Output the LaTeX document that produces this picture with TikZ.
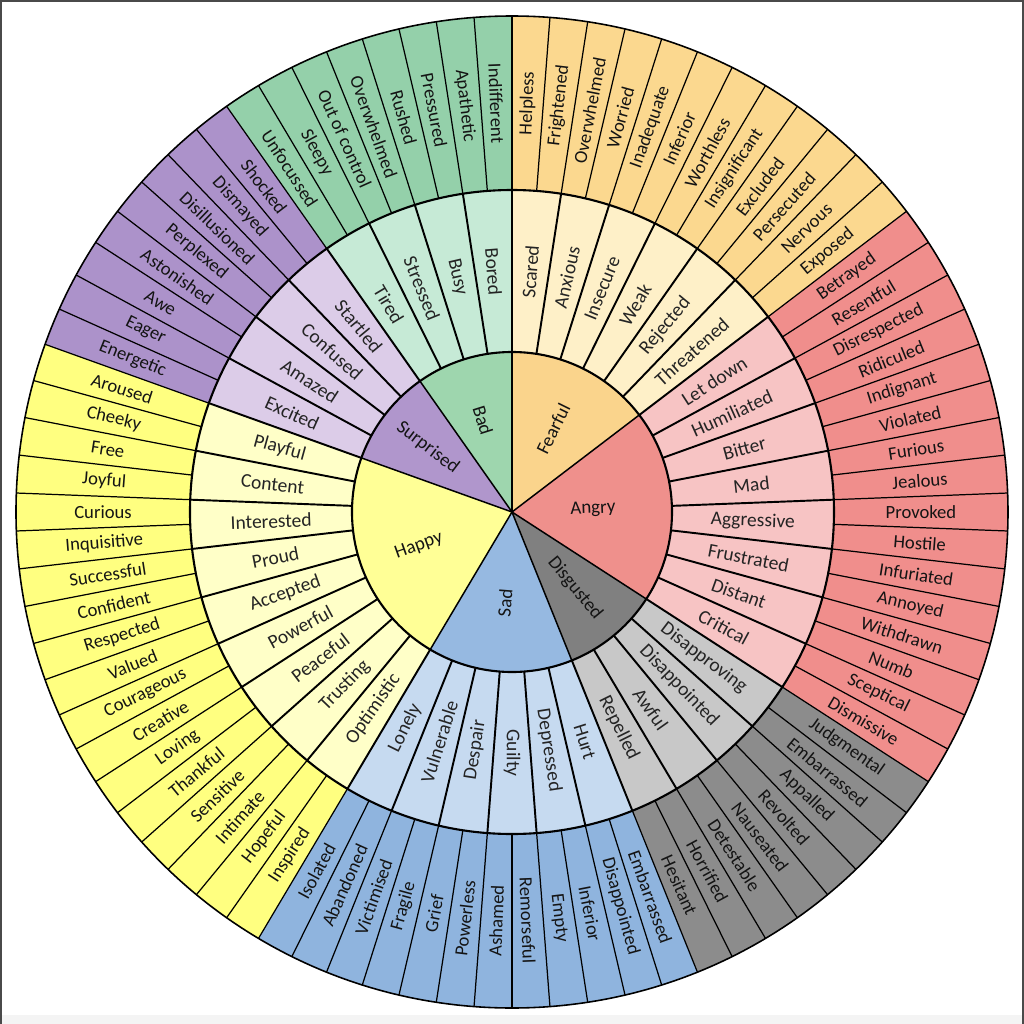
\documentclass[tikz,border=0pt]{standalone}
\usepackage{fontspec}
\setmainfont{Carlito}
\usetikzlibrary{calc}
\definecolor{fearcore}{HTML}{FAD48C}
\definecolor{fearmid}{HTML}{FEF0C8}
\definecolor{fearout}{HTML}{FBD88F}
\definecolor{angrycore}{HTML}{EF908C}
\definecolor{angrymid}{HTML}{F7C4C4}
\definecolor{angryout}{HTML}{F08E8C}
\definecolor{disgcore}{HTML}{808080}
\definecolor{disgmid}{HTML}{C8C8C8}
\definecolor{disgout}{HTML}{8C8C8C}
\definecolor{sadcore}{HTML}{96B9E1}
\definecolor{sadmid}{HTML}{C6DAF0}
\definecolor{sadout}{HTML}{8FB4DE}
\definecolor{happycore}{HTML}{FFFF96}
\definecolor{happymid}{HTML}{FFFFC8}
\definecolor{happyout}{HTML}{FFFF80}
\definecolor{surpcore}{HTML}{B096CC}
\definecolor{surpmid}{HTML}{DCCCE8}
\definecolor{surpout}{HTML}{AC92CA}
\definecolor{badcore}{HTML}{9ED6AE}
\definecolor{badmid}{HTML}{C6EAD6}
\definecolor{badout}{HTML}{94D0AA}
\definecolor{framegray}{HTML}{4A4A4A}
\definecolor{bandgray}{HTML}{F4F4F4}
\def\segw{4.390243902}
\def\ringpiece[#1](#2:#3:#4:#5){\fill[#1] ({90-#2*\segw}:#4) arc ({90-#2*\segw}:{90-#3*\segw}:#4) -- ({90-#3*\segw}:#5) arc ({90-#3*\segw}:{90-#2*\segw}:#5) -- cycle;}
\def\corepiece[#1](#2:#3){\fill[#1] (0,0) -- ({90-#2*\segw}:3.2) arc ({90-#2*\segw}:{90-#3*\segw}:3.2) -- cycle;}
\def\outerword(#1)#2{\draw[outerline] ({90-(#1-1)*\segw}:6.44) -- ({90-(#1-1)*\segw}:9.92); \node[outerword, rotate={90-(#1-0.5)*\segw+180*(#1>41.5)}] (out#1) at ({90-(#1-0.5)*\segw}:8.18) {#2};}
\def\midword(#1)#2{\draw[midline] ({90-(#1-1)*2*\segw}:3.2) -- ({90-(#1-1)*2*\segw}:6.44); \node[midword, rotate={90-(#1-0.5)*2*\segw+180*(#1>21.5)}] (mid#1) at ({90-(#1-0.5)*2*\segw}:4.82) {#2};}
\def\coreword(#1:#2:#3)#4{\draw[coreline] (0,0) -- ({90-#1*\segw}:3.2); \node[coreword, rotate={90-#2*\segw+180*(#2>41)}] (core#2) at ({90-#2*\segw}:#3) {#4};}
\tikzset{
  outerline/.style={line width=0.7pt, black},
  midline/.style={line width=1.1pt, black},
  coreline/.style={line width=0.85pt, black},
  ringline/.style={line width=1.2pt, black},
  outerword/.style={font=\fontsize{10.6}{12}\selectfont, text=black!92, inner sep=0pt},
  midword/.style={font=\fontsize{11.1}{13}\selectfont, text=black!86, inner sep=0pt},
  coreword/.style={font=\fontsize{10.8}{12}\selectfont, text=black!92, inner sep=0pt}
}

\begin{document}
\begin{tikzpicture}
		%%%%% START %%%%%
		\useasboundingbox (-10.24,-10.24) rectangle (10.24,10.24);
		\fill[white] (-10.24,-10.24) rectangle (10.24,10.24);
		\fill[bandgray] (-10.24,-10.24) rectangle (10.24,-10.06);
		\draw[framegray, line width=0.04cm] (-10.22,-10.24) -- (-10.22,10.22) -- (10.22,10.22) -- (10.22,-10.24);
		
		% outer ring
		\ringpiece[fearout](0:12:6.44:9.92)
		\ringpiece[angryout](12:28:6.44:9.92)
		\ringpiece[disgout](28:36:6.44:9.92)
		\ringpiece[sadout](36:48:6.44:9.92)
		\ringpiece[happyout](48:66:6.44:9.92)
		\ringpiece[surpout](66:74:6.44:9.92)
		\ringpiece[badout](74:82:6.44:9.92)
		
		% middle ring
		\ringpiece[fearmid](0:12:3.2:6.44)
		\ringpiece[angrymid](12:28:3.2:6.44)
		\ringpiece[disgmid](28:36:3.2:6.44)
		\ringpiece[sadmid](36:48:3.2:6.44)
		\ringpiece[happymid](48:66:3.2:6.44)
		\ringpiece[surpmid](66:74:3.2:6.44)
		\ringpiece[badmid](74:82:3.2:6.44)
		
		% core
		\corepiece[fearcore](0:12)
		\corepiece[angrycore](12:28)
		\corepiece[disgcore](28:36)
		\corepiece[sadcore](36:48)
		\corepiece[happycore](48:66)
		\corepiece[surpcore](66:74)
		\corepiece[badcore](74:82)
		
		\outerword(1){Helpless}
		\outerword(2){Frightened}
		\outerword(3){Overwhelmed}
		\outerword(4){Worried}
		\outerword(5){Inadequate}
		\outerword(6){Inferior}
		\outerword(7){Worthless}
		\outerword(8){Insignificant}
		\outerword(9){Excluded}
		\outerword(10){Persecuted}
		\outerword(11){Nervous}
		\outerword(12){Exposed}
		
		\outerword(13){Betrayed}
		\outerword(14){Resentful}
		\outerword(15){Disrespected}
		\outerword(16){Ridiculed}
		\outerword(17){Indignant}
		\outerword(18){Violated}
		\outerword(19){Furious}
		\outerword(20){Jealous}
		\outerword(21){Provoked}
		\outerword(22){Hostile}
		\outerword(23){Infuriated}
		\outerword(24){Annoyed}
		\outerword(25){Withdrawn}
		\outerword(26){Numb}
		\outerword(27){Sceptical}
		\outerword(28){Dismissive}
		
		\outerword(29){Judgmental}
		\outerword(30){Embarrassed}
		\outerword(31){Appalled}
		\outerword(32){Revolted}
		\outerword(33){Nauseated}
		\outerword(34){Detestable}
		\outerword(35){Horrified}
		\outerword(36){Hesitant}
		
		\outerword(37){Embarrassed}
		\outerword(38){Disappointed}
		\outerword(39){Inferior}
		\outerword(40){Empty}
		\outerword(41){Remorseful}
		\outerword(42){Ashamed}
		\outerword(43){Powerless}
		\outerword(44){Grief}
		\outerword(45){Fragile}
		\outerword(46){Victimised}
		\outerword(47){Abandoned}
		\outerword(48){Isolated}
		
		\outerword(49){Inspired}
		\outerword(50){Hopeful}
		\outerword(51){Intimate}
		\outerword(52){Sensitive}
		\outerword(53){Thankful}
		\outerword(54){Loving}
		\outerword(55){Creative}
		\outerword(56){Courageous}
		\outerword(57){Valued}
		\outerword(58){Respected}
		\outerword(59){Confident}
		\outerword(60){Successful}
		\outerword(61){Inquisitive}
		\outerword(62){Curious}
		\outerword(63){Joyful}
		\outerword(64){Free}
		\outerword(65){Cheeky}
		\outerword(66){Aroused}
		
		\outerword(67){Energetic}
		\outerword(68){Eager}
		\outerword(69){Awe}
		\outerword(70){Astonished}
		\outerword(71){Perplexed}
		\outerword(72){Disillusioned}
		\outerword(73){Dismayed}
		\outerword(74){Shocked}
		
		\outerword(75){Unfocussed}
		\outerword(76){Sleepy}
		\outerword(77){Out of control}
		\outerword(78){Overwhelmed}
		\outerword(79){Rushed}
		\outerword(80){Pressured}
		\outerword(81){Apathetic}
		\outerword(82){Indifferent}
		
		\midword(1){Scared}
		\midword(2){Anxious}
		\midword(3){Insecure}
		\midword(4){Weak}
		\midword(5){Rejected}
		\midword(6){Threatened}
		\midword(7){Let down}
		\midword(8){Humiliated}
		\midword(9){Bitter}
		\midword(10){Mad}
		\midword(11){Aggressive}
		\midword(12){Frustrated}
		\midword(13){Distant}
		\midword(14){Critical}
		\midword(15){Disapproving}
		\midword(16){Disappointed}
		\midword(17){Awful}
		\midword(18){Repelled}
		\midword(19){Hurt}
		\midword(20){Depressed}
		\midword(21){Guilty}
		\midword(22){Despair}
		\midword(23){Vulnerable}
		\midword(24){Lonely}
		\midword(25){Optimistic}
		\midword(26){Trusting}
		\midword(27){Peaceful}
		\midword(28){Powerful}
		\midword(29){Accepted}
		\midword(30){Proud}
		\midword(31){Interested}
		\midword(32){Content}
		\midword(33){Playful}
		\midword(34){Excited}
		\midword(35){Amazed}
		\midword(36){Confused}
		\midword(37){Startled}
		\midword(38){Tired}
		\midword(39){Stressed}
		\midword(40){Busy}
		\midword(41){Bored}
		
		\coreword(0:6:1.86){Fearful}
		\coreword(12:20:1.62){Angry}
		\coreword(28:32:1.98){Disgusted}
		\coreword(36:42:1.82){Sad}
		\coreword(48:57:1.98){Happy}
		\coreword(66:70:2.12){Surprised}
		\coreword(74:78:1.92){Bad}
		
		\draw[ringline] (0,0) circle (3.2);
		\draw[ringline] (0,0) circle (6.44);
		\draw[line width=0.9pt] (0,0) circle (9.92);
		
		%%%%% END %%%%%
\end{tikzpicture}
\end{document}
